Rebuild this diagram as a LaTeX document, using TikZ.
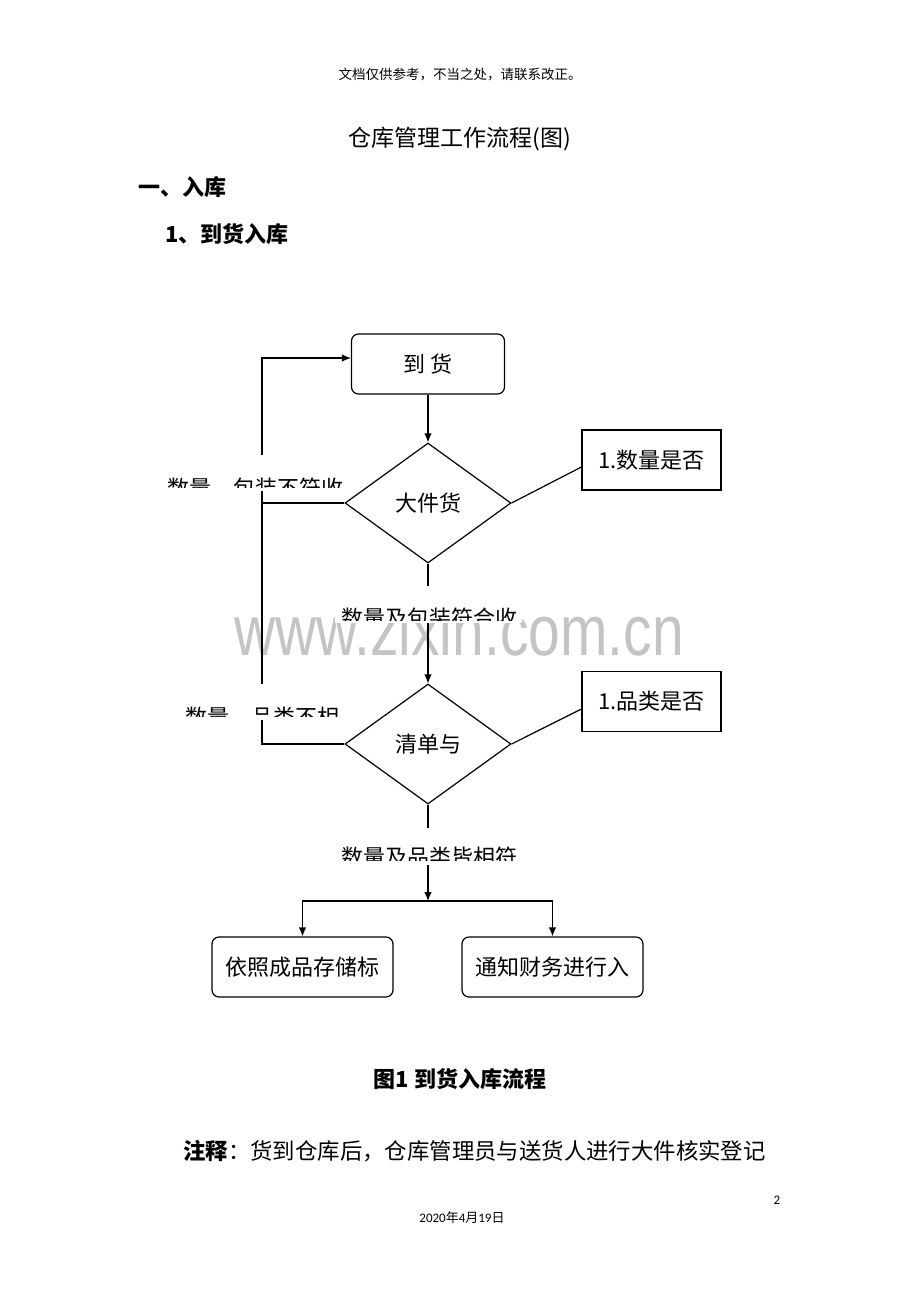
\documentclass[tikz,border=0pt]{standalone}
\usepackage{fontspec}
\setmainfont{Noto Sans CJK SC}
\newfontfamily\carl{Carlito}
\newfontfamily\wmfont{Liberation Sans}
\usetikzlibrary{shapes.geometric,arrows.meta,calc}
\begin{document}
\begin{tikzpicture}[x=1pt,y=-1pt,
  ln/.style={line width=1.2pt,draw=black},
  arr/.style={ln,-{Latex[length=9pt,width=7.5pt]}},
  fz/.style={font=\fontsize{22}{26}\selectfont},
  roundbox/.style={draw,line width=1.2pt,rounded corners=7pt,minimum height=60pt,inner sep=0pt,fz},
  sqbox/.style={draw,line width=1.2pt,minimum height=60pt,minimum width=139pt,inner sep=0pt,fz},
  dia/.style={draw,diamond,line width=1.2pt,minimum width=166pt,minimum height=120pt,inner sep=0pt,fz},
  lbl/.style={fz,anchor=base,inner sep=0pt}
]
\useasboundingbox (0,0) rectangle (920,1302);
\fill[white] (0,0) rectangle (920,1302);

% headings
\node[anchor=base,inner sep=0pt,font=\fontsize{13.5}{16}\selectfont] (hdr) at (460,79) {文档仅供参考，不当之处，请联系改正。};
\node[anchor=base,inner sep=0pt,font=\fontsize{23}{27}\selectfont] (title) at (460,146) {仓库管理工作流程(图)};
\node[anchor=base west,inner sep=0pt,font=\fontsize{22}{26}\selectfont\bfseries] (h1) at (138,195) {一、入库};
\node[anchor=base west,inner sep=0pt,font=\fontsize{22}{26}\selectfont\bfseries] (h2) at (165,242) {1、到货入库};

% watermark
\node[anchor=base,inner sep=0pt,text=black!23,font=\wmfont\fontsize{57}{60}\selectfont,yscale=1.25] (wm) at (459,655) {www.zixin.com.cn};

% nodes
\node[roundbox,minimum width=153pt] (arrive) at (428,364) {到 货};
\node[dia] (d1) at (428,503) {大件货};
\node[sqbox] (q1) at (651.5,460) {1.数量是否};
\node[dia] (d2) at (428,744) {清单与};
\node[sqbox] (q2) at (651.5,701.5) {1.品类是否};
\node[roundbox,minimum width=181pt] (b1) at (302.5,967) {依照成品存储标};
\node[roundbox,minimum width=181pt] (b2) at (552.5,967) {通知财务进行入};
\coordinate (lp) at (262,503);
\coordinate (j) at (428,901);

% connectors
\draw[arr] (arrive.south) -- (d1.north);
\draw[arr] (d1.south) -- (d2.north);
\draw[arr] (d2.south) -- (j);
\draw[arr] (j) -| (b1.north);
\draw[arr] (j) -| (b2.north);
\draw[ln] (d1.east) -- ($(q1.west)+(0,7)$);
\draw[ln] (d2.east) -- ($(q2.west)+(0,7.5)$);
\draw[arr] (d1.west) -- (lp) |- ($(arrive.west)+(0,-6)$);
\draw[ln] (d2.west) -| (lp);

% clipped labels (text boxes covering the lines)
\begin{scope}
  \fill[white] (160,455) rectangle (345,491);
  \clip (160,455) rectangle (345,487);
  \node[lbl] (t1) at (255,496) {数量、包装不符收};
\end{scope}
\begin{scope}
  \fill[white] (335,586) rectangle (522,623);
  \clip (335,586) rectangle (522,620);
  \node[lbl] (t2) at (429,626) {数量及包装符合收};
\end{scope}
\begin{scope}
  \fill[white] (178,684) rectangle (345,720);
  \clip (178,684) rectangle (345,716);
  \node[lbl] (t3) at (262,725) {数量、品类不相};
\end{scope}
\begin{scope}
  \fill[white] (335,828) rectangle (522,865);
  \clip (335,828) rectangle (522,860);
  \node[lbl] (t4) at (429,865) {数量及品类皆相符};
\end{scope}

% caption and note
\node[anchor=base,inner sep=0pt,font=\fontsize{22}{26}\selectfont\bfseries] (cap) at (460,1087) {图1 到货入库流程};
\node[anchor=base west,inner sep=0pt,font=\fontsize{22.4}{26}\selectfont] (note) at (183,1159) {\textbf{注释}：货到仓库后，仓库管理员与送货人进行大件核实登记};
\node[anchor=base,inner sep=0pt,font=\carl\fontsize{13}{15}\selectfont] (pg) at (777,1204) {2};
\node[anchor=base,inner sep=0pt,font=\fontsize{13}{15}\selectfont] (date) at (462,1222) {{\carl 2020}年{\carl 4}月{\carl 19}日};
\end{tikzpicture}
\end{document}
